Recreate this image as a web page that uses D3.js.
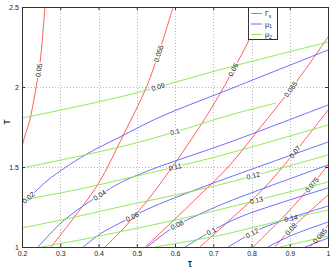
<!DOCTYPE html>
<html>
<head>
<meta charset="utf-8">
<script src="https://cdn.jsdelivr.net/npm/d3@7"></script>
<style>
  body { margin: 0; background: #fff; }
  text { font-family: "Liberation Sans", Arial, sans-serif; }
</style>
</head>
<body>
<div class="chart"></div>
<script>
// tick values
var tauTicks = [0.2, 0.3, 0.4, 0.5, 0.6, 0.7, 0.8, 0.9, 1];
var tTicks = [1, 1.5, 2, 2.5];

// Gamma_s contours (tau, T)
var gammaLevels = [0.05, 0.055, 0.06, 0.065, 0.07, 0.075, 0.08, 0.085];
var gammaLines = [
  [[0.2, 1.625], [0.207, 1.69], [0.22, 1.79], [0.237, 2.0], [0.248, 2.17], [0.26, 2.5]],
  [[0.276, 1.0], [0.331, 1.169], [0.399, 1.394], [0.469, 1.719], [0.522, 1.981], [0.556, 2.2], [0.595, 2.5]],
  [[0.417, 1.0], [0.469, 1.125], [0.535, 1.3125], [0.6, 1.525], [0.671, 1.775], [0.723, 1.981], [0.752, 2.106], [0.796, 2.306], [0.828, 2.5]],
  [[0.522, 1.0], [0.592, 1.156], [0.665, 1.325], [0.739, 1.5], [0.822, 1.744], [0.901, 1.981], [0.953, 2.15], [1.0, 2.3125]],
  [[0.665, 1.0], [0.749, 1.181], [0.828, 1.356], [0.914, 1.594], [1.0, 1.856]],
  [[0.804, 1.0], [0.888, 1.2], [0.958, 1.3875], [1.0, 1.5125]],
  [[0.861, 1.0], [0.903, 1.1125], [1.0, 1.325]],
  [[0.953, 1.0], [0.979, 1.069], [1.0, 1.1375]]
];
var gammaLabelAt = [[0.242, 2.106], [0.556, 2.21], [0.754, 2.106], [0.901, 1.988], [0.914, 1.594], [0.958, 1.388], [0.903, 1.112], [0.979, 1.069]];

// mu_1 contours
var mu1Levels = [0.02, 0.04, 0.06, 0.08, 0.1, 0.12, 0.14, 0.16];
var mu1Lines = [
  [[0.2, 1.275], [0.234, 1.344], [0.268, 1.419], [0.365, 1.575], [0.456, 1.6875], [0.561, 1.8125], [0.744, 1.9875], [1.0, 2.231]],
  [[0.242, 1.0], [0.299, 1.144], [0.352, 1.244], [0.404, 1.325], [0.456, 1.4], [0.535, 1.481], [0.744, 1.656], [1.0, 1.8875]],
  [[0.36, 1.0], [0.404, 1.081], [0.456, 1.15], [0.535, 1.244], [0.639, 1.344], [0.744, 1.4375], [1.0, 1.656]],
  [[0.527, 1.0], [0.574, 1.0875], [0.605, 1.1375], [0.665, 1.206], [0.744, 1.2875], [1.0, 1.5125]],
  [[0.626, 1.0], [0.665, 1.056], [0.705, 1.1125], [0.77, 1.1875], [0.875, 1.275], [1.0, 1.369]],
  [[0.739, 1.0], [0.783, 1.0625], [0.822, 1.1125], [0.901, 1.181], [1.0, 1.256]],
  [[0.843, 1.0], [0.901, 1.069], [1.0, 1.156]],
  [[0.94, 1.0], [1.0, 1.056]]
];
var mu1LabelAt = [[0.216, 1.31], [0.404, 1.32], [0.488, 1.19], [0.605, 1.14], [0.692, 1.11], [0.801, 1.09], null, null];

// mu_2 contours
var mu2Levels = [0.09, 0.1, 0.11, 0.12, 0.13, 0.14, 0.15];
var mu2Lines = [
  [[0.2, 1.806], [0.339, 1.875], [0.477, 1.95], [0.556, 2.0], [0.744, 2.125], [1.0, 2.281]],
  [[0.2, 1.494], [0.339, 1.5625], [0.477, 1.6375], [0.6, 1.719], [0.744, 1.825], [0.864, 1.9]],
  [[0.2, 1.294], [0.339, 1.356], [0.477, 1.431], [0.6, 1.5], [0.744, 1.5875], [1.0, 1.7625]],
  [[0.2, 1.119], [0.339, 1.1875], [0.477, 1.2625], [0.613, 1.331], [0.744, 1.406], [1.0, 1.575]],
  [[0.25, 1.0], [0.352, 1.044], [0.477, 1.106], [0.613, 1.175], [0.744, 1.25], [1.0, 1.406]],
  [[0.548, 1.0], [0.639, 1.0375], [0.744, 1.0875], [0.895, 1.175], [1.0, 1.231]],
  [[0.875, 1.0], [1.0, 1.069]]
];
var mu2LabelAt = [[0.556, 2.0], [0.6, 1.719], [0.6, 1.5], [0.804, 1.45], [0.812, 1.3], [0.901, 1.21], null];

var svgWidth = 332;
var svgHeight = 270;
var margin = { top: 7, right: 4, bottom: 23, left: 22 };
var width = svgWidth - margin.left - margin.right;
var height = svgHeight - margin.top - margin.bottom;

var svg = d3.select(".chart")
  .append("svg")
  .attr("width", svgWidth)
  .attr("height", svgHeight);

var defs = svg.append("defs");
defs.append("clipPath").attr("id", "plotclip")
  .append("rect").attr("width", width).attr("height", height);

var chartGroup = svg.append("g")
  .attr("transform", `translate(${margin.left}, ${margin.top})`);

var x = d3.scaleLinear().domain([0.2, 1]).range([0, width]);
var y = d3.scaleLinear().domain([1, 2.5]).range([height, 0]);

// grid
chartGroup.append("g")
  .selectAll("line")
  .data(tauTicks.slice(1, -1))
  .enter().append("line")
  .attr("x1", d => Math.round(x(d)) + 0.5).attr("x2", d => Math.round(x(d)) + 0.5)
  .attr("y1", 0).attr("y2", height)
  .attr("stroke", "#b8b8b8").attr("stroke-dasharray", "1,2");
chartGroup.append("g")
  .selectAll("line")
  .data(tTicks.slice(1, -1))
  .enter().append("line")
  .attr("y1", d => Math.round(y(d)) + 0.5).attr("y2", d => Math.round(y(d)) + 0.5)
  .attr("x1", 0).attr("x2", width)
  .attr("stroke", "#b8b8b8").attr("stroke-dasharray", "1,2");

var lineGen = d3.line()
  .x(d => x(d[0]))
  .y(d => y(d[1]))
  .curve(d3.curveCatmullRom);

var plot = chartGroup.append("g").attr("clip-path", "url(#plotclip)");
var labelLayer = chartGroup.append("g");
var maskCount = 0;

function drawFamily(lines, levels, labelAt, color) {
  lines.forEach(function (pts, i) {
    var path = plot.append("path")
      .attr("d", lineGen(pts))
      .attr("fill", "none")
      .attr("stroke", color)
      .attr("stroke-width", 0.9);

    if (!labelAt[i]) return;
    var px = pts.map(p => [x(p[0]), y(p[1])]);
    var lp = [x(labelAt[i][0]), y(labelAt[i][1])];
    var best = null;
    for (var k = 0; k < px.length - 1; k++) {
      var a = px[k], b = px[k + 1];
      var dx = b[0] - a[0], dy = b[1] - a[1];
      var t = ((lp[0] - a[0]) * dx + (lp[1] - a[1]) * dy) / (dx * dx + dy * dy);
      t = Math.max(0, Math.min(1, t));
      var q = [a[0] + t * dx, a[1] + t * dy];
      var dist = Math.hypot(q[0] - lp[0], q[1] - lp[1]);
      if (!best || dist < best.d) best = { d: dist, q: q, ang: Math.atan2(dy, dx) * 180 / Math.PI };
    }
    var ang = best.ang;
    if (ang > 90) ang -= 180;
    if (ang < -90) ang += 180;

    var label = labelLayer.append("text")
      .attr("transform", `translate(${best.q[0]},${best.q[1]}) rotate(${ang})`)
      .attr("text-anchor", "middle")
      .attr("dy", "0.35em")
      .attr("font-size", "7px")
      .attr("fill", "#222")
      .text(String(levels[i]));
    var w = label.node().getComputedTextLength() + 2;

    var id = "m" + (maskCount++);
    var mask = defs.append("mask").attr("id", id)
      .attr("maskUnits", "userSpaceOnUse")
      .attr("x", -5).attr("y", -5).attr("width", width + 10).attr("height", height + 10);
    mask.append("rect").attr("x", -5).attr("y", -5)
      .attr("width", width + 10).attr("height", height + 10).attr("fill", "#fff");
    mask.append("rect")
      .attr("x", -w / 2).attr("y", -3.5).attr("width", w).attr("height", 7)
      .attr("transform", `translate(${best.q[0]},${best.q[1]}) rotate(${ang})`)
      .attr("fill", "#000");
    path.attr("mask", `url(#${id})`);
  });
}

drawFamily(gammaLines, gammaLevels, gammaLabelAt, "#ff4d4d");
drawFamily(mu1Lines, mu1Levels, mu1LabelAt, "#5c5cff");
drawFamily(mu2Lines, mu2Levels, mu2LabelAt, "#85e640");

// axes (ticks inside, mirrored on top/right)
var fmt = d => String(+d.toFixed(1));
var bottomAxis = d3.axisBottom(x).tickValues(tauTicks).tickFormat(fmt).tickSizeInner(-3).tickSizeOuter(0).tickPadding(4);
var leftAxis = d3.axisLeft(y).tickValues(tTicks).tickFormat(fmt).tickSizeInner(-3).tickSizeOuter(0).tickPadding(3);
var topAxis = d3.axisTop(x).tickValues(tauTicks).tickFormat("").tickSizeInner(-3).tickSizeOuter(0);
var rightAxis = d3.axisRight(y).tickValues(tTicks).tickFormat("").tickSizeInner(-3).tickSizeOuter(0);

[
  chartGroup.append("g").attr("transform", `translate(0, ${height})`).call(bottomAxis),
  chartGroup.append("g").call(leftAxis),
  chartGroup.append("g").call(topAxis),
  chartGroup.append("g").attr("transform", `translate(${width}, 0)`).call(rightAxis)
].forEach(function (g) {
  g.selectAll("text").attr("font-size", "7px").attr("font-family", "Liberation Sans, Arial, sans-serif").attr("fill", "#222");
  g.selectAll("line").attr("stroke", "#333");
  g.select(".domain").attr("stroke", "#333");
});

// axis titles
chartGroup.append("text")
  .attr("transform", `translate(${-12}, ${height / 2 - 5}) rotate(-90)`)
  .attr("text-anchor", "middle")
  .attr("font-size", "9px")
  .text("T");

chartGroup.append("text")
  .attr("x", width / 2 + 15)
  .attr("y", height + 20)
  .attr("text-anchor", "middle")
  .attr("font-size", "11px")
  .attr("font-family", "DejaVu Serif, serif")
  .text("τ");

// legend
var legendItems = [
  { name: "Γ", sub: "s", color: "#ff4d4d" },
  { name: "μ", sub: "1", color: "#5c5cff" },
  { name: "μ", sub: "2", color: "#85e640" }
];
var legend = chartGroup.append("g").attr("transform", "translate(226, 0)");
legend.append("rect")
  .attr("x", 0.5).attr("y", 0.5).attr("width", 29).attr("height", 32)
  .attr("fill", "#fff").attr("stroke", "#333");
legendItems.forEach(function (d, i) {
  var yy = 6.5 + i * 10.5;
  legend.append("line")
    .attr("x1", 3).attr("x2", 14).attr("y1", yy).attr("y2", yy)
    .attr("stroke", d.color).attr("stroke-width", 0.9);
  var t = legend.append("text").attr("x", 17).attr("y", yy + 2.5).attr("font-size", "7px").attr("fill", "#222");
  t.append("tspan").text(d.name);
  t.append("tspan").attr("font-size", "5px").attr("dy", 1.5).text(d.sub);
});
</script>
</body>
</html>
